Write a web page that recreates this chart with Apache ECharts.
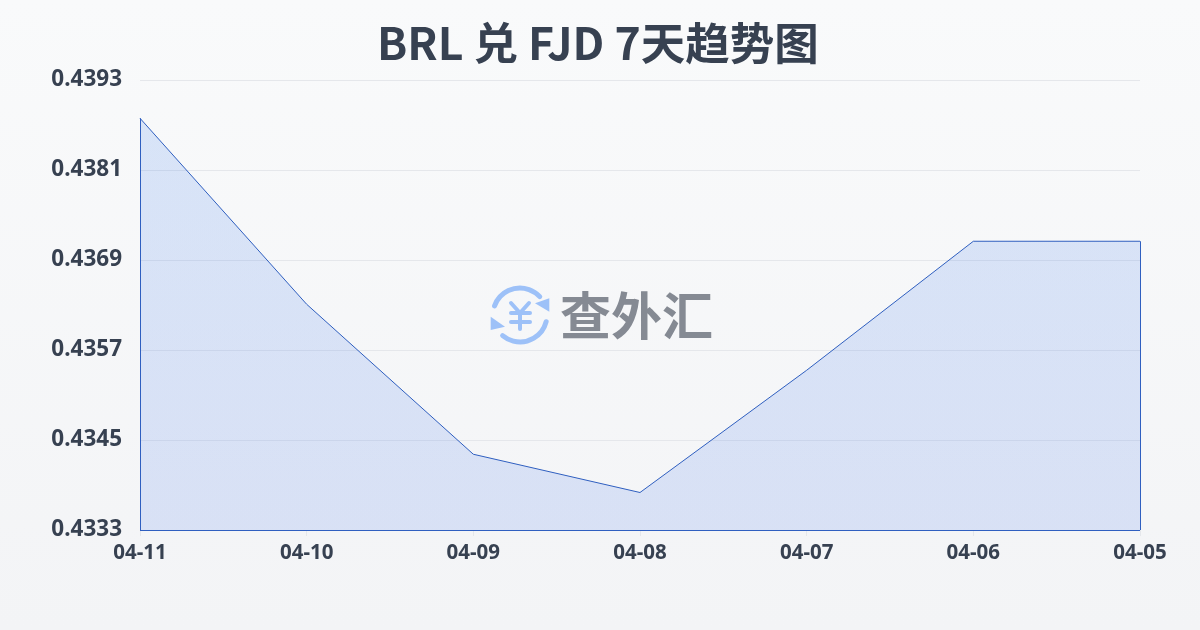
<!DOCTYPE html>
<html><head><meta charset="utf-8">
<style>html,body{margin:0;padding:0;width:1200px;height:630px;overflow:hidden}#c{width:1200px;height:630px}</style>
<script src="https://cdn.jsdelivr.net/npm/echarts@6/dist/echarts.min.js"></script>
</head><body><div id="c"></div>
<script>
const titleText = 'BRL 兑 FJD 7天趋势图';
const watermarkText = '查外汇';
const categories = ['04-11','04-10','04-09','04-08','04-07','04-06','04-05'];
const rates = [0.43879,0.43631,0.43431,0.4338,0.43543,0.43715,0.43715];
const yMin = 0.4333, yMax = 0.4393, yStep = 0.0012;
const font = '"Noto Sans CJK SC",sans-serif';
const latin = '"Noto Sans",sans-serif';
const blue = '#2f5fc0';
const ink = '#374151';
const wm = '#9dc1f8';
const chart = echarts.init(document.getElementById('c'), null, {renderer:'canvas'});
chart.setOption({
  animation:false,
  backgroundColor:new echarts.graphic.LinearGradient(0,0,0,1,[{offset:0,color:'#f9fafb'},{offset:1,color:'#f3f4f6'}]),
  title:{text:titleText,left:372,top:16,textStyle:{fontFamily:font,fontSize:44.5,fontWeight:'bold',color:ink}},
  grid:{left:140,right:60,top:80,bottom:100},
  xAxis:{type:'category',data:categories,boundaryGap:false,
    axisLine:{show:false},
    axisTick:{show:true,length:6,lineStyle:{color:'#e5e7eb'}},
    axisLabel:{interval:0,margin:13,fontFamily:latin,fontSize:20.5,fontWeight:'bold',color:ink},
    splitLine:{show:false}},
  yAxis:{type:'value',min:yMin,max:yMax,interval:yStep,
    axisLine:{show:false},axisTick:{show:false},
    axisLabel:{margin:18,fontFamily:latin,fontSize:22.5,fontWeight:'bold',color:ink,formatter:v=>v.toFixed(4)},
    splitLine:{lineStyle:{color:'#e5e7eb',width:1}}},
  series:[{type:'line',data:rates,symbol:'none',smooth:false,z:3,
    lineStyle:{color:blue,width:1},
    areaStyle:{origin:'start',opacity:1,color:new echarts.graphic.LinearGradient(0,0,0,1,[{offset:0,color:'rgba(59,125,235,0.17)'},{offset:1,color:'rgba(59,110,235,0.15)'}])},
    markLine:{silent:true,symbol:'none',label:{show:false},animation:false,
      lineStyle:{color:blue,width:1,type:'solid'},
      data:[
        [{coord:[categories[0],yMin]},{coord:[categories[0],rates[0]]}],
        [{coord:[categories[6],yMin]},{coord:[categories[6],rates[6]]}],
        [{coord:[categories[0],yMin]},{coord:[categories[6],yMin]}]
      ]}
  }],
  graphic:[{type:'group',silent:true,z:10,children:[
    {type:'arc',shape:{cx:520,cy:315,r:27,startAngle:-2.8,endAngle:-0.75},style:{fill:null,stroke:wm,lineWidth:5,lineCap:'round'}},
    {type:'arc',shape:{cx:520,cy:315,r:27,startAngle:0.25,endAngle:2.27},style:{fill:null,stroke:wm,lineWidth:5,lineCap:'round'}},
    {type:'polygon',shape:{points:[[549.3,298.3],[549.3,311.7],[535,303.3]]},style:{fill:wm}},
    {type:'polygon',shape:{points:[[490.7,316.7],[490.7,330],[505,326.7]]},style:{fill:wm}},
    {type:'polyline',shape:{points:[[511,303],[520,313],[529,303]]},style:{fill:null,stroke:wm,lineWidth:4,lineCap:'round',lineJoin:'round'}},
    {type:'line',shape:{x1:511,y1:313,x2:530,y2:313},style:{stroke:wm,lineWidth:4,lineCap:'round'}},
    {type:'line',shape:{x1:511,y1:322,x2:530,y2:322},style:{stroke:wm,lineWidth:4,lineCap:'round'}},
    {type:'line',shape:{x1:520,y1:313,x2:520,y2:329},style:{stroke:wm,lineWidth:4,lineCap:'round'}},
    {type:'text',style:{x:560,y:316,text:watermarkText,align:'left',verticalAlign:'middle',fontFamily:font,fontSize:51,fontWeight:'bold',fill:'#858a93'}}
  ]}]
});
</script></body></html>
